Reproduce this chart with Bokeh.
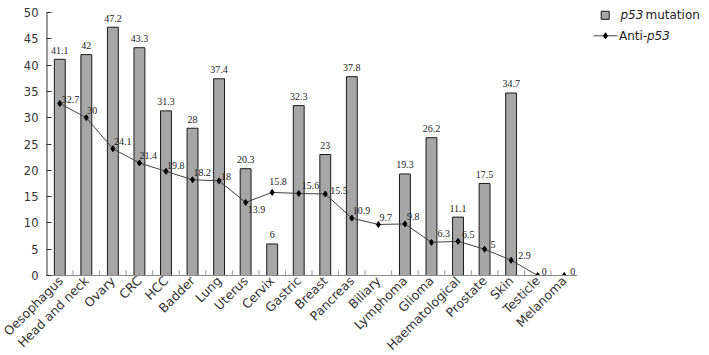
import math
import numpy as np
from bokeh.plotting import figure
from bokeh.layouts import row
from bokeh.models import ColumnDataSource, Range1d, SingleIntervalTicker, LabelSet
from bokeh.core.properties import value
from bokeh.embed import file_html
from bokeh.resources import INLINE

categories = ["Oesophagus", "Head and neck", "Ovary", "CRC", "HCC", "Badder", "Lung",
              "Uterus", "Cervix", "Gastric", "Breast", "Pancreas", "Biliary", "Lymphoma",
              "Glioma", "Haematological", "Prostate", "Skin", "Testicle", "Melanoma"]
p53_mutation = [41.1, 42, 47.2, 43.3, 31.3, 28, 37.4, 20.3, 6, 32.3, 23, 37.8, None, 19.3,
                26.2, 11.1, 17.5, 34.7, None, None]
anti_p53 = [32.7, 30, 24.1, 21.4, 19.8, 18.2, 18, 13.9, 15.8, 15.6, 15.5, 10.9, 9.7, 9.8,
            6.3, 6.5, 5, 2.9, 0, 0]
y_axis_max = 50
y_ticks_interval = 5

# label placement (screen px, y up) for the line's value labels
lab_dx = [2, 1, 1, 0, 1, 1, 2, 2, -3, 3, 5, 1, 1, 2, 6, 4, 6, 7, 4, 6]
lab_dy = [4, 7, 7, 7, 6, 7, 4, -7, 11, 8, 3, 8, 7, 7, 9, 7, 5, 5, 4, 4]

FONT = "DejaVu Sans"
BAR_FILL = "#a6a6a6"
BAR_LINE = "#1a1a1a"
LINE_COL = "#404040"
AXIS_COL = "#333333"
TXT = "#222222"

# layout in pixels: axis from y=12 (top value) down to y=275 (zero)
PLOT_TOP_GAP = 12
AXIS_PX = 263
FRAME_H = PLOT_TOP_GAP + AXIS_PX
y_range_end = y_axis_max * FRAME_H / AXIS_PX

bar_cats = [c for c, v in zip(categories, p53_mutation) if v is not None]
bar_vals = [v for v in p53_mutation if v is not None]
bar_src = ColumnDataSource(dict(x=bar_cats, top=bar_vals,
                                lab=[f"{v:g}" for v in bar_vals]))
line_src = ColumnDataSource(dict(x=categories, y=anti_p53,
                                 lab=[f"{v:g}" for v in anti_p53],
                                 dx=lab_dx, dy=lab_dy))

p = figure(frame_width=531, frame_height=FRAME_H, x_range=categories,
           y_range=Range1d(0, y_range_end),
           output_backend="svg", toolbar_location=None,
           min_border_left=46, min_border_right=0, min_border_top=0,
           min_border_bottom=80)
p.outline_line_color = None
p.xgrid.grid_line_color = None
p.ygrid.grid_line_color = None

bars = p.vbar(x="x", top="top", width=0.41, source=bar_src, fill_color=BAR_FILL,
              line_color=BAR_LINE, line_width=1)

# boundary ticks on x axis
bounds = np.arange(1, len(categories))
p.segment(x0=bounds, x1=bounds, y0=[0] * len(bounds), y1=[1.0] * len(bounds),
          line_color="#9a9a9a", line_width=1)

# y axis line only up to the top value
p.segment(x0=[0], x1=[0], y0=[0], y1=[y_axis_max], line_color=AXIS_COL, line_width=2)

ln = p.line(x="x", y="y", source=line_src, line_color=LINE_COL, line_width=1)
sc = p.scatter(x="x", y="y", source=line_src, marker="diamond", size=6,
               fill_color="black", line_color="black")

bar_labels = LabelSet(x="x", y="top", text="lab", source=bar_src, text_align="center",
                      text_baseline="middle", y_offset=9, text_font=FONT,
                      text_font_size="10px", text_color=TXT)
p.add_layout(bar_labels)
line_labels = LabelSet(x="x", y="y", text="lab", source=line_src, text_align="left",
                       text_baseline="middle", x_offset="dx", y_offset="dy",
                       text_font=FONT, text_font_size="10px", text_color=TXT)
p.add_layout(line_labels)

# axes
p.yaxis.ticker = SingleIntervalTicker(interval=y_ticks_interval)
p.yaxis.major_tick_in = 5
p.yaxis.major_tick_out = 0
p.yaxis.minor_tick_line_color = None
p.yaxis.axis_line_color = None
p.yaxis.major_tick_line_color = AXIS_COL
p.yaxis.major_label_text_font = FONT
p.yaxis.major_label_text_font_size = "11.5px"
p.yaxis.major_label_text_color = "#333333"
p.yaxis.major_label_standoff = 4

p.xaxis.major_tick_line_color = None
p.xaxis.major_tick_in = 0
p.xaxis.major_tick_out = 0
p.xaxis.axis_line_color = "#8a8a8a"
p.xaxis.major_label_orientation = math.pi / 4
p.xaxis.major_label_text_font = FONT
p.xaxis.major_label_text_font_size = "12.5px"
p.xaxis.major_label_text_color = "#333333"
p.xaxis.major_label_standoff = 3

# legend panel (its own canvas; its frame lines up with the chart's frame,
# so its ranges are given in page pixels)
lg = figure(frame_width=132, frame_height=FRAME_H, x_range=Range1d(577, 709),
            y_range=Range1d(FRAME_H, 0), output_backend="svg", toolbar_location=None,
            x_axis_type=None, y_axis_type=None, min_border_left=0, min_border_right=0,
            min_border_top=0, min_border_bottom=80)
lg.outline_line_color = None
lg.xgrid.grid_line_color = None
lg.ygrid.grid_line_color = None
lg.scatter(x=[604.7], y=[14.8], marker="square", size=8, fill_color=BAR_FILL,
           line_color=BAR_LINE)
lg.text(x=[620], y=[14.8], text=["p53"], text_font=value(FONT), text_font_size="12px",
        text_font_style="italic", text_baseline="middle", text_color=TXT)
lg.text(x=[645], y=[14.8], text=["mutation"], text_font=value(FONT),
        text_font_size="12px", text_baseline="middle", text_color=TXT)
lg.line(x=[593, 617], y=[35.3, 35.3], line_color=LINE_COL, line_width=1)
lg.scatter(x=[605], y=[35.3], marker="diamond", size=6, fill_color="black",
           line_color="black")
lg.text(x=[618.5], y=[35.3], text=["Anti-"], text_font=value(FONT), text_font_size="12px",
        text_baseline="middle", text_color=TXT)
lg.text(x=[646.5], y=[35.3], text=["p53"], text_font=value(FONT), text_font_size="12px",
        text_font_style="italic", text_baseline="middle", text_color=TXT)

layout = row(p, lg, spacing=0)
open("out.html", "w").write(file_html(layout, INLINE))
